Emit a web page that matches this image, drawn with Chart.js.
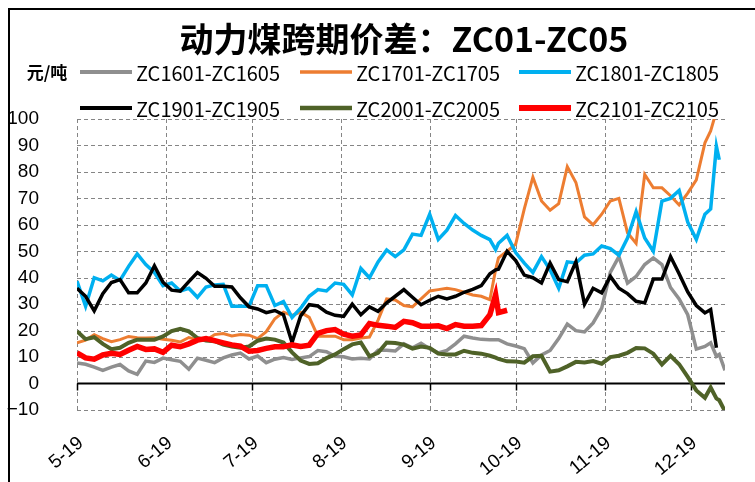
<!DOCTYPE html>
<html>
<head>
<meta charset="utf-8">
<script src="https://cdn.jsdelivr.net/npm/chart.js@4.4.0/dist/chart.umd.min.js"></script>
<style>
  html, body { margin: 0; padding: 0; background: #fff; }
  #wrap { position: relative; width: 755px; height: 482px; overflow: hidden; }
  #frame { position: absolute; left: 8px; top: 8px; width: 800px; height: 600px; border-top: 2px solid #000; border-left: 2px solid #000; }
  canvas { position: absolute; left: 0; top: 0; }
</style>
</head>
<body>
<div id="wrap">
  <div id="frame"></div>
  <canvas id="chart" width="755" height="482"></canvas>
</div>
<script>
// days counted from 1 May (all contracts laid over one calendar)
var days = [0, 3, 6, 9, 12, 15, 18, 21, 24, 27, 30, 33, 36, 39, 42, 45, 48, 51, 54, 57,
  60, 63, 66, 69, 72, 75, 78, 81, 84, 87, 90, 93, 96, 99, 102, 105, 108, 111, 114,
  117, 120, 123, 126, 129, 132, 135, 138, 141, 144, 146, 147, 150, 153, 156, 159, 162, 165, 168, 171,
  174, 177, 180, 183, 186, 189, 192, 195, 198, 201, 204, 207, 210, 213, 216, 219, 221, 223, 224, 226];

var monthTicks = [0, 31, 61, 92, 123, 153, 184, 214];
var monthLabels = ['5-19', '6-19', '7-19', '8-19', '9-19', '10-19', '11-19', '12-19'];

var zc1601 = [7.8, 7.3, 6.2, 5, 6.2, 7.2, 4.8, 3.5, 8.5, 8, 9.6, 9, 8.4, 5.4, 9.6, 8.8, 7.9, 9.7, 10.8, 11.5,
  9.3, 10.4, 7.9, 9.2, 9.8, 9.1, 9.7, 10.2, 12.5, 12, 10.3, 10.1, 9.3, 9.6, 9.3, 12.6, 12.6, 12.3, 15,
  13.5, 15.2, 13.2, 11.6, 12.5, 15, 17.9, 17.2, 16.7, 16.6, 16.6, 16.6, 15, 14.2, 13.2, 7.8, 10.8, 12.5, 17, 22.5,
  20, 19.5, 22.9, 28.5, 42, 48, 38, 40.5, 45, 47.5, 45, 36.3, 32, 26, 13, 14, 15.4, 10.3, 11, 5];
var zc1701 = [15.4, 16.4, 18.5, 17, 15.8, 16.6, 17.8, 17.3, 17.2, 17.3, 16.7, 16.4, 15.7, 17.4, 16.6, 16.4, 18.5, 18.9, 18, 18.5,
  18.3, 17, 19.6, 24.5, 27, 25.8, 27, 25, 17.9, 17.9, 17.9, 16.6, 16.6, 17.2, 17.6, 24, 32, 31.6, 29.5,
  29, 32, 35, 35.5, 36, 35.5, 34.5, 33.5, 33, 31.7, 43, 47.5, 50, 52.7, 66, 78, 69, 65.5, 68, 82,
  76, 63, 60, 64, 69, 70, 57, 53, 79, 74, 74, 71, 67.5, 72, 77, 91, 95.5, 103, null, null];
var zc1801 = [38.7, 29.2, 40, 38.8, 41, 39, 44.3, 49, 45, 42, 37, 38, 35, 36, 32.6, 36.5, 37.3, 37.5, 29.2, 29.2,
  29.2, 37, 37, 29.5, 31, 25, 28.5, 33, 35.5, 35, 38, 37.5, 33.5, 43.5, 40, 46, 50.5, 48, 50.5,
  56.5, 56, 64, 54.5, 58, 63.5, 60.5, 58, 56, 54.4, 50.6, 53, 56, 49.5, 45.5, 42, 48, 43, 36, 46,
  45.6, 48.5, 49, 52, 51, 48.5, 55, 65, 55, 50, 69, 70, 73, 61, 54.5, 64, 66, 89.7, 84.6, null];
var zc1901 = [36, 33, 27.5, 34, 38.2, 39.3, 34.3, 34.3, 38, 44.5, 38.3, 35.3, 34.9, 38.5, 42, 39.8, 36.8, 36.8, 36.5, 32.4,
  29, 28.2, 26.8, 27.6, 26, 15.5, 25.6, 29.8, 29.3, 27, 25.8, 25.4, 30, 26, 29, 27.3, 30.5, 33, 35.5,
  32.6, 29.8, 31.5, 33, 32, 33, 34.5, 35.6, 37, 41.5, 43, 43.2, 50, 46.5, 41, 40, 38, 45.5, 39.3, 38.5,
  46, 30, 36, 34.3, 40.5, 36, 34, 31.1, 30.5, 39.5, 39.5, 48, 41.5, 34.6, 29.5, 26.7, 28, 13.5, null, null];
var zc2001 = [19.8, 16.8, 17.5, 15, 13, 13.5, 15.4, 16.6, 16.6, 16.6, 17.8, 19.8, 20.7, 19.7, 17.2, 16.3, 16, 14.7, 14, 13.5,
  14, 16.2, 17, 16.6, 15.5, 11.8, 8.7, 7.4, 7.7, 9.6, 11, 13, 14.8, 15.5, 10.3, 11.6, 15.5, 15.3, 14.7,
  13.2, 14, 13.5, 11.3, 11, 11, 12.4, 11.6, 11.3, 10.5, 9.8, 9.3, 8.4, 8.3, 7.9, 10.3, 10.5, 4.5, 5, 6.5,
  8.2, 8, 8.5, 7.5, 10, 10.5, 11.6, 13.4, 13.3, 11.3, 7.2, 10.5, 7.3, 2.5, -2.6, -5.4, -1.5, -5.6, -6.3, -10.5];
var zc2101 = [11.6, 9.7, 9.2, 10.8, 11.4, 11, 12.6, 14, 12.9, 13.1, 11.8, 14.5, 13.9, 15, 16.4, 17, 16.2, 15.4, 14.6, 14.1,
  12.2, 12.5, 13.3, 13.9, 13.9, 14.6, 14, 14.5, 19, 20, 20.4, 18.7, 17.9, 18.4, 22.7, 22, 21.7, 21.2, 23.5,
  23, 21.7, 21.7, 21.8, 20.8, 22.3, 21.7, 21.7, 21.9, 26, 33.6, 26.8, 27.7, null, null, null, null, null, null, null,
  null, null, null, null, null, null, null, null, null, null, null, null, null, null, null, null, null, null, null, null];

var seriesNames = ['ZC1601-ZC1605', 'ZC1701-ZC1705', 'ZC1801-ZC1805', 'ZC1901-ZC1905', 'ZC2001-ZC2005', 'ZC2101-ZC2105'];
var seriesData = [zc1601, zc1701, zc1801, zc1901, zc2001, zc2101];
var colors = ['#8f8f8f', '#ED7D31', '#00B0F0', '#000000', '#4F6228', '#FF0000'];
var widths = [3.5, 3, 3.5, 3.5, 4, 5.5];

var gridColor = '#858585';
var tickFont = { family: 'Liberation Sans, Arial, sans-serif', size: 19 };
var cjk = '"Noto Sans CJK SC", "Noto Sans", sans-serif';

var datasets = seriesData.map(function (vals, i) {
    return {
        label: seriesNames[i],
        data: vals.map(function (v, j) { return { x: days[j], y: v }; }),
        borderColor: colors[i],
        backgroundColor: colors[i],
        borderWidth: widths[i],
        pointRadius: 0,
        tension: 0,
        order: seriesData.length - i   // later series on top
    };
});

// dashed grid, zero line with ticks, then title, unit and legend
var decor = {
    id: 'decor',
    beforeDatasetsDraw: function (chart) {
        var ctx = chart.ctx, area = chart.chartArea;
        var x = chart.scales.x, y = chart.scales.y;
        ctx.save();
        ctx.strokeStyle = gridColor;
        ctx.lineWidth = 1;
        ctx.setLineDash([4, 3]);
        ctx.beginPath();
        y.ticks.forEach(function (t) {
            if (t.value === 0) return;
            var py = Math.round(y.getPixelForValue(t.value)) + 0.5;
            ctx.moveTo(area.left, py);
            ctx.lineTo(area.right, py);
        });
        x.ticks.forEach(function (t) {
            var px = Math.round(x.getPixelForValue(t.value)) + 0.5;
            ctx.moveTo(px, area.top);
            ctx.lineTo(px, area.bottom);
        });
        ctx.stroke();

        var y0 = y.getPixelForValue(0);
        ctx.setLineDash([]);
        ctx.strokeStyle = '#000';
        ctx.lineWidth = 2;
        ctx.beginPath();
        ctx.moveTo(area.left, y0);
        ctx.lineTo(area.right, y0);
        ctx.stroke();
        ctx.lineWidth = 1.5;
        ctx.beginPath();
        x.ticks.forEach(function (t) {
            var px = Math.round(x.getPixelForValue(t.value)) + 0.5;
            ctx.moveTo(px, y0);
            ctx.lineTo(px, y0 + 7);
        });
        ctx.stroke();
        ctx.restore();
    },
    afterDraw: function (chart) {
        var ctx = chart.ctx;
        ctx.save();
        ctx.fillStyle = '#000';
        ctx.textBaseline = 'middle';

        ctx.textAlign = 'center';
        ctx.font = 'bold 34px ' + cjk;
        ctx.fillText('动力煤跨期价差：ZC01-ZC05', 404, 39);

        ctx.font = 'bold 17px ' + cjk;
        ctx.fillText('元/吨', 47, 73);

        ctx.textAlign = 'left';
        ctx.font = '20px ' + cjk;
        var colX = [80, 300, 519], rowY = [72, 108];
        seriesNames.forEach(function (name, i) {
            var lx = colX[i % 3], ly = rowY[Math.floor(i / 3)];
            ctx.strokeStyle = colors[i];
            ctx.lineWidth = widths[i] + 0.5;
            ctx.beginPath();
            ctx.moveTo(lx, ly);
            ctx.lineTo(lx + 52, ly);
            ctx.stroke();
            ctx.fillText(name, lx + 56, ly + 1);
        });
        ctx.restore();
    }
};

new Chart(document.getElementById('chart'), {
    type: 'line',
    data: { datasets: datasets },
    options: {
        responsive: false,
        animation: false,
        events: [],
        layout: { padding: { top: 119, right: 30, left: 0, bottom: 0 } },
        plugins: {
            legend: { display: false },
            title: { display: false },
            tooltip: { enabled: false }
        },
        scales: {
            x: {
                type: 'linear',
                min: 0,
                max: 226,
                afterBuildTicks: function (s) {
                    s.ticks = monthTicks.map(function (v) { return { value: v }; });
                },
                afterFit: function (s) { s.height = 72; },
                grid: { display: false },
                border: { display: false },
                ticks: {
                    autoSkip: false,
                    minRotation: 40,
                    maxRotation: 40,
                    padding: 14,
                    labelOffset: 4,
                    color: '#000',
                    font: tickFont,
                    callback: function (v, i) { return monthLabels[i]; }
                }
            },
            y: {
                min: -10,
                max: 100,
                afterFit: function (s) { s.width = 77; },
                grid: { display: false },
                border: { display: false },
                ticks: {
                    stepSize: 10,
                    padding: 30,
                    color: '#000',
                    font: tickFont,
                    callback: function (v) { return v < 0 ? '\u2212' + Math.abs(v) : String(v); }
                }
            }
        }
    },
    plugins: [decor]
});
</script>
</body>
</html>
